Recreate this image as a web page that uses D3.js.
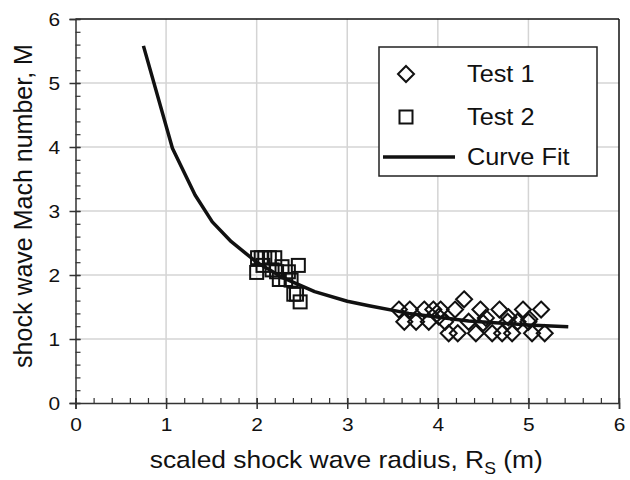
<!DOCTYPE html>
<html><head><meta charset="utf-8">
<script src="https://cdn.jsdelivr.net/npm/d3@7"></script>
<style>body{margin:0;background:#fff}svg{display:block;font-family:"Liberation Sans",Arial,sans-serif}</style>
</head><body>
<svg id="c" width="630" height="480"></svg>
<script>
const xTicks = [0,1,2,3,4,5,6];
const yTicks = [0,1,2,3,4,5,6];
const test1 = [
  [3.57,1.46],[3.69,1.46],[3.85,1.46],[3.95,1.46],[4.03,1.46],[4.19,1.46],[4.29,1.62],[4.47,1.46],[4.68,1.46],[4.94,1.46],[5.14,1.46],
  [4.01,1.35],[4.53,1.33],[4.78,1.34],[5.01,1.31],
  [3.63,1.27],[3.76,1.27],[3.90,1.27],[4.08,1.27],[4.34,1.27],[4.50,1.25],[4.77,1.27],[4.88,1.27],[5.00,1.27],
  [4.12,1.09],[4.22,1.09],[4.42,1.09],[4.60,1.09],[4.71,1.09],[4.82,1.09],[5.04,1.09],[5.18,1.09]
];
const test2 = [
  [2.00,2.04],[2.01,2.27],[2.05,2.27],[2.09,2.27],[2.14,2.27],[2.20,2.27],[2.07,2.15],[2.17,2.08],
  [2.22,2.05],[2.28,2.13],[2.25,1.93],[2.32,1.93],[2.35,2.05],[2.38,1.92],[2.46,2.15],[2.41,1.70],[2.44,1.70],[2.48,1.58]
];
const curveFit = [
  [0.75,5.58],[1.07,3.98],[1.32,3.25],[1.51,2.83],[1.72,2.52],[2.0,2.2],[2.3,1.95],[2.64,1.74],
  [3.0,1.59],[3.24,1.52],[3.68,1.40],[4.34,1.28],[5.0,1.22],[5.44,1.19]
];
const legendLabels = ["Test 1","Test 2","Curve Fit"];

const SX = 1.1; // horizontal glyph stretch seen in the reference
const svg = d3.select("#c");
const L=75.5,R=619,T=19,B=403;
const x = d3.scaleLinear().domain([0,6]).range([L,R]);
const y = d3.scaleLinear().domain([0,6]).range([B,T]);

// grid
const g = svg.append("g");
g.selectAll("line.vx").data(xTicks.slice(1,-1)).join("line")
  .attr("x1",d=>x(d)).attr("x2",d=>x(d)).attr("y1",T).attr("y2",B)
  .attr("stroke","#d4d4d4").attr("stroke-width",1.5);
g.selectAll("line.hy").data(yTicks.slice(1,-1)).join("line")
  .attr("y1",d=>y(d)).attr("y2",d=>y(d)).attr("x1",L).attr("x2",R)
  .attr("stroke","#d4d4d4").attr("stroke-width",1.5);

// frame top/right
svg.append("line").attr("x1",L).attr("x2",R).attr("y1",T).attr("y2",T).attr("stroke","#111").attr("stroke-width",1.5);
svg.append("line").attr("x1",R).attr("x2",R).attr("y1",T).attr("y2",B).attr("stroke","#111").attr("stroke-width",1.5);

// axes
const minorX = d3.range(0,6.001,0.2);
const minorY = d3.range(0,6.001,0.2);
const xa = svg.append("g").attr("transform",`translate(0,${B})`)
  .call(d3.axisBottom(x).tickValues(minorX).tickSize(-5).tickFormat(""));
xa.select(".domain").remove();
xa.selectAll("line").attr("stroke","#333").attr("stroke-width",1.2);
const xb = svg.append("g").attr("transform",`translate(0,${B})`)
  .call(d3.axisBottom(x).tickValues(xTicks).tickSize(6).tickPadding(9).tickFormat(d3.format("d")));
xb.select(".domain").attr("stroke","#333").attr("stroke-width",1.5);
xb.selectAll(".tick line").attr("stroke","#333").attr("stroke-width",1.5).attr("y1",-5);
xb.selectAll("text").attr("font-size",19).attr("fill","#111").attr("font-family","Liberation Sans, Arial, sans-serif")
  .attr("transform",`scale(${SX},1)`);

const ya = svg.append("g").attr("transform",`translate(${L},0)`)
  .call(d3.axisLeft(y).tickValues(minorY).tickSize(-5).tickFormat(""));
ya.select(".domain").remove();
ya.selectAll("line").attr("stroke","#333").attr("stroke-width",1.2);
const yb = svg.append("g").attr("transform",`translate(${L},0)`)
  .call(d3.axisLeft(y).tickValues(yTicks).tickSize(6).tickPadding(8).tickFormat(d3.format("d")));
yb.select(".domain").attr("stroke","#333").attr("stroke-width",1.5);
yb.selectAll(".tick line").attr("stroke","#333").attr("stroke-width",1.5).attr("x1",5);
yb.selectAll("text").attr("font-size",19).attr("fill","#111").attr("font-family","Liberation Sans, Arial, sans-serif")
  .attr("transform",`scale(${SX},1)`);

// titles
const xt = svg.append("text").attr("transform",`translate(${(L+R)/2 - 1},468) scale(${SX},1)`).attr("text-anchor","middle")
  .attr("font-size",24).attr("fill","#111");
xt.append("tspan").text("scaled shock wave radius, R");
xt.append("tspan").attr("font-size",16).attr("dy",6).text("S");
xt.append("tspan").attr("dy",-6).text(" (m)");
svg.append("text").attr("transform","translate(32,206) rotate(-90)").attr("text-anchor","middle")
  .attr("font-size",25).attr("fill","#111").text("shock wave Mach number, M");

// symbols
const diamond = (cx,cy,h)=>`M${cx},${cy-h}L${cx+h},${cy}L${cx},${cy+h}L${cx-h},${cy}Z`;
svg.append("g").selectAll("path").data(test1).join("path")
  .attr("d",d=>diamond(x(d[0]),y(d[1]),8))
  .attr("fill","none").attr("stroke","#111").attr("stroke-width",2);
svg.append("g").selectAll("rect").data(test2).join("rect")
  .attr("x",d=>x(d[0])-6.5).attr("y",d=>y(d[1])-6.5).attr("width",13).attr("height",13)
  .attr("fill","none").attr("stroke","#111").attr("stroke-width",2);

// curve
svg.append("path").datum(curveFit)
  .attr("d",d3.line().x(d=>x(d[0])).y(d=>y(d[1])))
  .attr("fill","none").attr("stroke","#111").attr("stroke-width",3.5).attr("stroke-linejoin","round");

// legend
const lg = svg.append("g");
lg.append("rect").attr("x",379).attr("y",47).attr("width",218).attr("height",129)
  .attr("fill","#fff").attr("stroke","#222").attr("stroke-width",1.5);
lg.append("path").attr("d",diamond(406,74,8)).attr("fill","none").attr("stroke","#111").attr("stroke-width",2);
lg.append("rect").attr("x",399.5).attr("y",110.5).attr("width",13).attr("height",13)
  .attr("fill","none").attr("stroke","#111").attr("stroke-width",2);
lg.append("line").attr("x1",383).attr("x2",455).attr("y1",157).attr("y2",157)
  .attr("stroke","#111").attr("stroke-width",3.5);
lg.selectAll("text").data(legendLabels).join("text")
  .attr("transform",(d,i)=>`translate(467,${[82,125,165][i]}) scale(${SX},1)`)
  .attr("font-size",23).attr("fill","#111").text(d=>d);
</script>
</body></html>
